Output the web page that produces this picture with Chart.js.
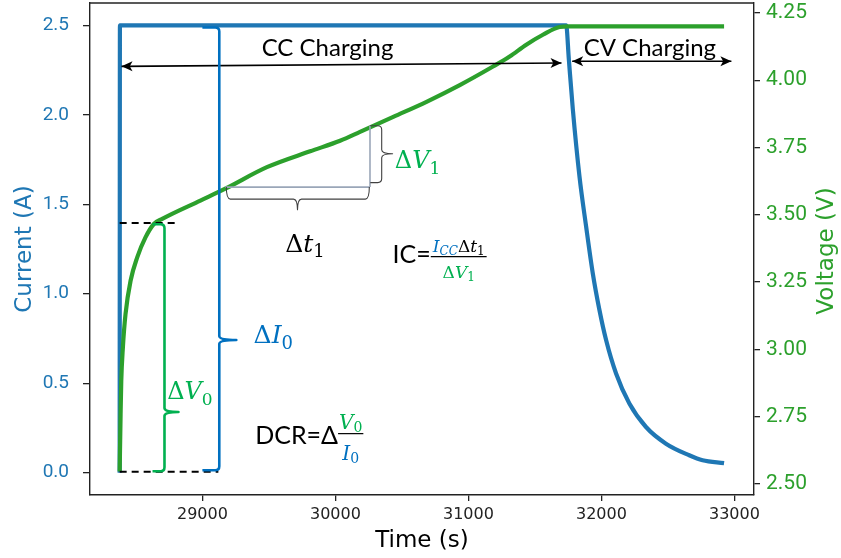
<!DOCTYPE html>
<html><head><meta charset="utf-8">
<script src="https://cdn.jsdelivr.net/npm/chart.js@4.4.1/dist/chart.umd.min.js"></script>
<style>html,body{margin:0;padding:0;background:#fff;}#wrap{width:841px;height:558px;}</style>
</head><body><div id="wrap"><canvas id="c" width="841" height="558"></canvas></div>
<script>
// ---------------- data ----------------
const currentTime   = [28378, 28380, 31735, 31755, 31785, 31835, 31885, 31935, 31985, 32035, 32110, 32210, 32335, 32485, 32660, 32760, 32922];
const currentValues = [0, 2.5, 2.5, 2.31, 2.03, 1.655, 1.375, 1.114, 0.909, 0.741, 0.554, 0.386, 0.255, 0.162, 0.097, 0.069, 0.053];

const voltageTime   = [28378, 28385, 28390, 28402, 28422, 28460, 28510, 28572, 28635, 28698, 28985, 29172, 29485, 29810, 30035, 30185, 30435, 30685, 30935, 31185, 31310, 31435, 31560, 31685, 31747, 32922];
const voltageValues = [2.546, 2.759, 2.882, 3.006, 3.131, 3.255, 3.342, 3.416, 3.466, 3.485, 3.553, 3.597, 3.677, 3.736, 3.775, 3.808, 3.864, 3.920, 3.982, 4.051, 4.088, 4.132, 4.169, 4.198, 4.2, 4.2];

const timeTicks    = [29000, 30000, 31000, 32000, 33000];
const currentTicks = [0.0, 0.5, 1.0, 1.5, 2.0, 2.5];
const voltageTicks = [2.50, 2.75, 3.00, 3.25, 3.50, 3.75, 4.00, 4.25];

const timeRange    = [28155, 33147];
const currentRange = [-0.125, 2.625];
const voltageRange = [2.459, 4.287];

const BLUE = '#1f77b4', GREEN = '#2ca02c';
const ANN_BLUE = '#0070C0', ANN_GREEN = '#00B050';

// ---------------- annotations (data units: time, current) ----------------
const notes = {
  ccArrow: {t0: 28392, t1: 31700, i0: 2.271, i1: 2.290},
  cvArrow: {t0: 31780, t1: 32977, i: 2.299},
  ccText: {t: 29941, i: 2.327, s: 'CC Charging'},
  cvText: {t: 32364, i: 2.327, s: 'CV Charging'},
  dash1: {t0: 28378, t1: 28797, i: 1.396},
  dash2: {t0: 28378, t1: 29120, i: 0.005},
  braceI0: {tEnd: 29000, tMain: 29127, tTip: 29255, iTop: 2.488, iBot: 0.013, iTip: 0.741},
  braceV0: {tEnd: 28625, tMain: 28715, tTip: 28820, iTop: 1.388, iBot: 0.008, iTip: 0.339},
  grayH: {t0: 29172, t1: 30260, i: 1.596},
  grayV: {t: 30260, i0: 1.939, i1: 1.596},
  braceT1: {iEnd: 1.596, iMain: 1.529, iTip: 1.469, tL: 29180, tR: 30255, tTip: 29715},
  braceV1: {tEnd: 30262, tMain: 30348, tTip: 30430, iTop: 1.939, iBot: 1.621, iTip: 1.782},
  dt1: {t: 29622, i: 1.235},
  dv1: {t: 30447, i: 1.704},
  ic: {t: 30430, i: 1.170, barT0: 30717, barT1: 31137, barI: 1.207, numI: 1.235, denI: 1.086},
  di0: {t: 29385, i: 0.722},
  dv0: {t: 28735, i: 0.414},
  dcr: {t: 29397, i: 0.162, barT0: 30020, barT1: 30210, barI: 0.218, numI: 0.246, denI: 0.069}
};

function runs(ctx, x, y, list, align) {
  let w = 0;
  list.forEach(r => { ctx.font = r.f; w += ctx.measureText(r.t).width; });
  let cx = align === 'center' ? x - w / 2 : x;
  ctx.textBaseline = 'alphabetic'; ctx.textAlign = 'left';
  list.forEach(r => { ctx.font = r.f; ctx.fillStyle = r.c; ctx.fillText(r.t, cx, y + (r.dy || 0)); cx += ctx.measureText(r.t).width; });
  return w;
}
function vBrace(ctx, xEnd, xMain, yTop, yBot, yTip, xTip, r) {
  const s = xMain > xEnd ? 1 : -1;
  ctx.beginPath();
  ctx.moveTo(xEnd, yTop);
  ctx.lineTo(xMain - s * r, yTop);
  ctx.quadraticCurveTo(xMain, yTop, xMain, yTop + r);
  ctx.lineTo(xMain, yTip - r);
  ctx.quadraticCurveTo(xMain, yTip, xTip, yTip);
  ctx.quadraticCurveTo(xMain, yTip, xMain, yTip + r);
  ctx.lineTo(xMain, yBot - r);
  ctx.quadraticCurveTo(xMain, yBot, xMain - s * r, yBot);
  ctx.lineTo(xEnd, yBot);
  ctx.stroke();
}
function hBrace(ctx, yEnd, yMain, xL, xR, xTip, yTip, r) {
  ctx.beginPath();
  ctx.moveTo(xL, yEnd);
  ctx.quadraticCurveTo(xL, yMain, xL + r, yMain);
  ctx.lineTo(xTip - r, yMain);
  ctx.quadraticCurveTo(xTip, yMain, xTip, yTip);
  ctx.quadraticCurveTo(xTip, yMain, xTip + r, yMain);
  ctx.lineTo(xR - r, yMain);
  ctx.quadraticCurveTo(xR, yMain, xR, yEnd);
  ctx.stroke();
}
function arrowHead(ctx, x, y, dir) {
  const L = 11, H = 5;
  ctx.beginPath();
  ctx.moveTo(x, y);
  ctx.lineTo(x - dir * L, y - H);
  ctx.lineTo(x - dir * L * 0.75, y);
  ctx.lineTo(x - dir * L, y + H);
  ctx.closePath();
  ctx.fill();
}

const annotationPlugin = {
  id: 'notes',
  afterDatasetsDraw(chart) {
    const ctx = chart.ctx, X = chart.scales.x, Y = chart.scales.y;
    const px = v => X.getPixelForValue(v), py = v => Y.getPixelForValue(v);
    ctx.save();
    ctx.lineCap = 'butt'; ctx.lineJoin = 'round';
    // dashed reference lines
    ctx.strokeStyle = '#000'; ctx.lineWidth = 2; ctx.setLineDash([7, 5]);
    [notes.dash1, notes.dash2].forEach(d => { ctx.beginPath(); ctx.moveTo(px(d.t0), py(d.i)); ctx.lineTo(px(d.t1), py(d.i)); ctx.stroke(); });
    ctx.setLineDash([]);
    // arrows
    ctx.lineWidth = 1.6; ctx.fillStyle = '#000';
    let a = notes.ccArrow;
    ctx.beginPath(); ctx.moveTo(px(a.t0), py(a.i0)); ctx.lineTo(px(a.t1), py(a.i1)); ctx.stroke();
    arrowHead(ctx, px(a.t0), py(a.i0), -1); arrowHead(ctx, px(a.t1), py(a.i1), 1);
    a = notes.cvArrow;
    ctx.beginPath(); ctx.moveTo(px(a.t0), py(a.i)); ctx.lineTo(px(a.t1), py(a.i)); ctx.stroke();
    arrowHead(ctx, px(a.t0), py(a.i), -1); arrowHead(ctx, px(a.t1), py(a.i), 1);
    // gray triangle lines
    ctx.strokeStyle = '#9aa6b8'; ctx.lineWidth = 1.6;
    ctx.beginPath(); ctx.moveTo(px(notes.grayH.t0), py(notes.grayH.i)); ctx.lineTo(px(notes.grayH.t1), py(notes.grayH.i)); ctx.stroke();
    ctx.beginPath(); ctx.moveTo(px(notes.grayV.t), py(notes.grayV.i0)); ctx.lineTo(px(notes.grayV.t), py(notes.grayV.i1)); ctx.stroke();
    // thin braces
    ctx.strokeStyle = '#404040'; ctx.lineWidth = 1.1;
    let b = notes.braceT1;
    hBrace(ctx, py(b.iEnd), py(b.iMain), px(b.tL), px(b.tR), px(b.tTip), py(b.iTip), 4);
    b = notes.braceV1;
    vBrace(ctx, px(b.tEnd), px(b.tMain), py(b.iTop), py(b.iBot), py(b.iTip), px(b.tTip), 4);
    // coloured braces
    ctx.lineWidth = 2.6;
    ctx.strokeStyle = ANN_BLUE; b = notes.braceI0;
    vBrace(ctx, px(b.tEnd), px(b.tMain), py(b.iTop), py(b.iBot), py(b.iTip), px(b.tTip), 4);
    ctx.strokeStyle = ANN_GREEN; b = notes.braceV0;
    vBrace(ctx, px(b.tEnd), px(b.tMain), py(b.iTop), py(b.iBot), py(b.iTip), px(b.tTip), 4);
    // texts
    const SANS = 'Lato, "Open Sans", sans-serif', SER = '"DejaVu Serif", serif';
    runs(ctx, px(notes.ccText.t), py(notes.ccText.i), [{t: notes.ccText.s, f: '24px ' + SANS, c: '#000'}], 'center');
    runs(ctx, px(notes.cvText.t), py(notes.cvText.i), [{t: notes.cvText.s, f: '24px ' + SANS, c: '#000'}], 'center');
    runs(ctx, px(notes.dt1.t), py(notes.dt1.i), [
      {t: 'Δ', f: '25px ' + SER, c: '#000'}, {t: 't', f: 'italic 25px ' + SER, c: '#000'}, {t: '1', f: '18px ' + SER, c: '#000', dy: 5}]);
    runs(ctx, px(notes.dv1.t), py(notes.dv1.i), [
      {t: 'Δ', f: '24px ' + SER, c: ANN_GREEN}, {t: 'V', f: 'italic 24px ' + SER, c: ANN_GREEN}, {t: '1', f: '17px ' + SER, c: ANN_GREEN, dy: 6}]);
    runs(ctx, px(notes.di0.t), py(notes.di0.i), [
      {t: 'Δ', f: '25px ' + SER, c: ANN_BLUE}, {t: 'I', f: 'italic 25px ' + SER, c: ANN_BLUE}, {t: '0', f: '18px ' + SER, c: ANN_BLUE, dy: 6}]);
    runs(ctx, px(notes.dv0.t), py(notes.dv0.i), [
      {t: 'Δ', f: '24px ' + SER, c: ANN_GREEN}, {t: 'V', f: 'italic 24px ' + SER, c: ANN_GREEN}, {t: '0', f: '17px ' + SER, c: ANN_GREEN, dy: 6}]);
    // IC formula
    let n = notes.ic;
    runs(ctx, px(n.t), py(n.i), [{t: 'IC=', f: '25px ' + SANS, c: '#000'}]);
    const bx0 = px(n.barT0), bx1 = px(n.barT1);
    ctx.strokeStyle = '#000'; ctx.lineWidth = 1.2;
    ctx.beginPath(); ctx.moveTo(bx0, py(n.barI)); ctx.lineTo(bx1, py(n.barI)); ctx.stroke();
    runs(ctx, (bx0 + bx1) / 2, py(n.numI), [
      {t: 'I', f: 'italic 17px ' + SER, c: ANN_BLUE}, {t: 'CC', f: 'italic 12px ' + SER, c: ANN_BLUE, dy: 3},
      {t: 'Δ', f: '17px ' + SER, c: '#000'}, {t: 't', f: 'italic 17px ' + SER, c: '#000'}, {t: '1', f: '12px ' + SER, c: '#000', dy: 3}], 'center');
    runs(ctx, (bx0 + bx1) / 2, py(n.denI), [
      {t: 'Δ', f: '17px ' + SER, c: ANN_GREEN}, {t: 'V', f: 'italic 17px ' + SER, c: ANN_GREEN}, {t: '1', f: '12px ' + SER, c: ANN_GREEN, dy: 3}], 'center');
    // DCR formula
    n = notes.dcr;
    runs(ctx, px(n.t), py(n.i), [{t: 'DCR=Δ', f: '25px ' + SANS, c: '#000'}]);
    const dx0 = px(n.barT0), dx1 = px(n.barT1);
    ctx.beginPath(); ctx.moveTo(dx0, py(n.barI)); ctx.lineTo(dx1, py(n.barI)); ctx.stroke();
    runs(ctx, (dx0 + dx1) / 2, py(n.numI), [
      {t: 'V', f: 'italic 20px ' + SER, c: ANN_GREEN}, {t: '0', f: '14px ' + SER, c: ANN_GREEN, dy: 3}], 'center');
    runs(ctx, (dx0 + dx1) / 2, py(n.denI), [
      {t: 'I', f: 'italic 20px ' + SER, c: ANN_BLUE}, {t: '0', f: '14px ' + SER, c: ANN_BLUE, dy: 3}], 'center');
    ctx.restore();
  },
  afterDraw(chart) {
    const ctx = chart.ctx, ca = chart.chartArea;
    ctx.save();
    // top spine
    ctx.strokeStyle = '#222'; ctx.lineWidth = 1.4;
    ctx.beginPath(); ctx.moveTo(ca.left, ca.top); ctx.lineTo(ca.right, ca.top); ctx.stroke();
    // axis titles
    ctx.textAlign = 'center'; ctx.textBaseline = 'middle';
    ctx.font = '23px "DejaVu Sans"';
    ctx.fillStyle = '#000';
    ctx.fillText('Time (s)', (ca.left + ca.right) / 2, 541);
    const cy = (ca.top + ca.bottom) / 2;
    ctx.save(); ctx.translate(25, cy); ctx.rotate(-Math.PI / 2);
    ctx.fillStyle = BLUE; ctx.fillText('Current (A)', 0, 0); ctx.restore();
    ctx.save(); ctx.translate(827, cy + 2); ctx.rotate(-Math.PI / 2);
    ctx.fillStyle = GREEN; ctx.fillText('Voltage (V)', 0, 0); ctx.restore();
    ctx.restore();
  }
};

const toPoints = (xs, ys) => xs.map((x, k) => ({x: x, y: ys[k]}));
const tickGrid = {drawOnChartArea: false, drawTicks: true, tickLength: 6, color: '#222', lineWidth: 1.3};
const noPadY = s => { s.paddingTop = 0; s.paddingBottom = 0; };

new Chart(document.getElementById('c'), {
  type: 'line',
  data: {
    datasets: [
      {label: 'Current', data: toPoints(currentTime, currentValues), yAxisID: 'y', borderColor: BLUE, borderWidth: 4.2,
       pointRadius: 0, fill: false, cubicInterpolationMode: 'monotone', order: 2},
      {label: 'Voltage', data: toPoints(voltageTime, voltageValues), yAxisID: 'y2', borderColor: GREEN, borderWidth: 4.2,
       pointRadius: 0, fill: false, cubicInterpolationMode: 'monotone', order: 1}
    ]
  },
  options: {
    responsive: false, animation: false, devicePixelRatio: 1,
    layout: {padding: {top: 3, left: 0, right: 0, bottom: 0}},
    plugins: {legend: {display: false}, tooltip: {enabled: false}},
    events: [],
    scales: {
      x: {type: 'linear', position: 'bottom', min: timeRange[0], max: timeRange[1],
          afterBuildTicks: s => { s.ticks = timeTicks.map(v => ({value: v})); },
          afterFit: s => { s.height = 63; s.paddingLeft = 0; s.paddingRight = 0; },
          grid: tickGrid, border: {display: true, color: '#222', width: 1.4},
          ticks: {autoSkip: false, maxRotation: 0, padding: 4, color: '#222', font: {family: 'DejaVu Sans', size: 16},
                  callback: v => String(v)}},
      y: {type: 'linear', position: 'left', min: currentRange[0], max: currentRange[1],
          afterBuildTicks: s => { s.ticks = currentTicks.map(v => ({value: v})); },
          afterFit: s => { s.width = 90; noPadY(s); },
          grid: Object.assign({}, tickGrid, {tickLength: 7}), border: {display: true, color: '#222', width: 1.4},
          ticks: {autoSkip: false, padding: 14, color: BLUE, font: {family: '"Liberation Sans Narrow", Roboto', size: 19},
                  callback: v => v.toFixed(1)}},
      y2: {type: 'linear', position: 'right', min: voltageRange[0], max: voltageRange[1],
          afterBuildTicks: s => { s.ticks = voltageTicks.map(v => ({value: v})); },
          afterFit: s => { s.width = 87; noPadY(s); },
          grid: tickGrid, border: {display: true, color: '#222', width: 1.4},
          ticks: {autoSkip: false, padding: 6, color: GREEN, font: {family: 'Roboto', size: 21},
                  callback: v => v.toFixed(2)}}
    }
  },
  plugins: [annotationPlugin]
});
</script></body></html>
